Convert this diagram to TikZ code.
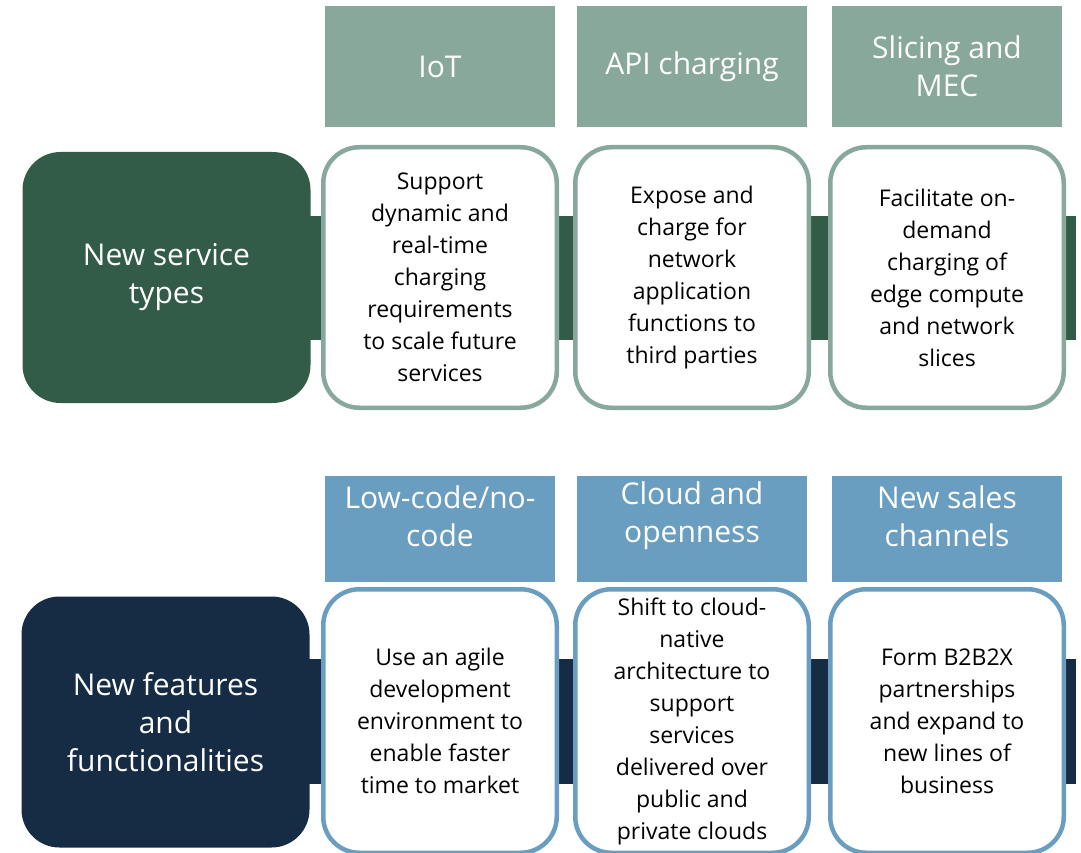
\documentclass[tikz,border=0pt]{standalone}
\usepackage{fontspec}
\setmainfont{Open Sans}
\usepackage{tikz}
\definecolor{sage}{HTML}{87A89B}
\definecolor{forest}{HTML}{335C48}
\definecolor{steel}{HTML}{6A9EC0}
\definecolor{navy}{HTML}{162B44}

\begin{document}
\begin{tikzpicture}[x=1pt,y=-1pt,
  lead/.style={rounded corners=38pt,minimum width=288pt,minimum height=251pt,align=center,text=white,inner sep=0pt,font=\fontsize{30}{38}\selectfont},
  hdr/.style={minimum width=230pt,align=center,text=white,inner sep=0pt,font=\fontsize{30}{38}\selectfont},
  card/.style={draw,line width=4.5pt,fill=white,rounded corners=36pt,minimum width=233.5pt,align=center,inner sep=0pt,font=\fontsize{23}{32}\selectfont}]
\useasboundingbox (0,0) rectangle (1081,853);
% top band: service types
\fill[forest] (300,216) rectangle (1076,340);
\node[lead,fill=forest] (svc) at (166.5,277.5) {New service\\types};
\foreach \i/\x/\hd/\tx in {1/440/{IoT}/{Support\\dynamic and\\real-time\\charging\\requirements\\to scale future\\services},
  2/692/{API charging}/{Expose and\\charge for\\network\\application\\functions to\\third parties},
  3/947/{Slicing and\\MEC}/{Facilitate on-\\demand\\charging of\\edge compute\\and network\\slices}}{
  \node[hdr,fill=sage,minimum height=121pt] (svchd\i) at (\x,66.5) {\hd};
  \node[card,draw=sage,minimum height=260.5pt] (svccard\i) at (\x,277.5) {\tx};
}
% bottom band: features
\fill[navy] (300,659) rectangle (1076,784);
\node[lead,fill=navy] (feat) at (165.5,722) {New features\\and\\functionalities};
\foreach \i/\x/\hd/\tx in {1/440/{Low-code/no-\\code}/{Use an agile\\development\\environment to\\enable faster\\time to market},
  2/692/{Cloud and\\openness}/{Shift to cloud-\\native\\architecture to\\support\\services\\delivered over\\public and\\private clouds},
  3/947/{New sales\\channels}/{Form B2B2X\\partnerships\\and expand to\\new lines of\\business}}{
  \node[hdr,fill=steel,minimum height=106pt] (feathd\i) at (\x,529) {};
  \node[hdr] (feathdtx\i) at ([yshift=13pt]feathd\i.center) {\hd};
  \node[card,draw=steel,minimum height=263.5pt] (featcard\i) at (\x,721) {\tx};
}
\end{tikzpicture}
\end{document}
